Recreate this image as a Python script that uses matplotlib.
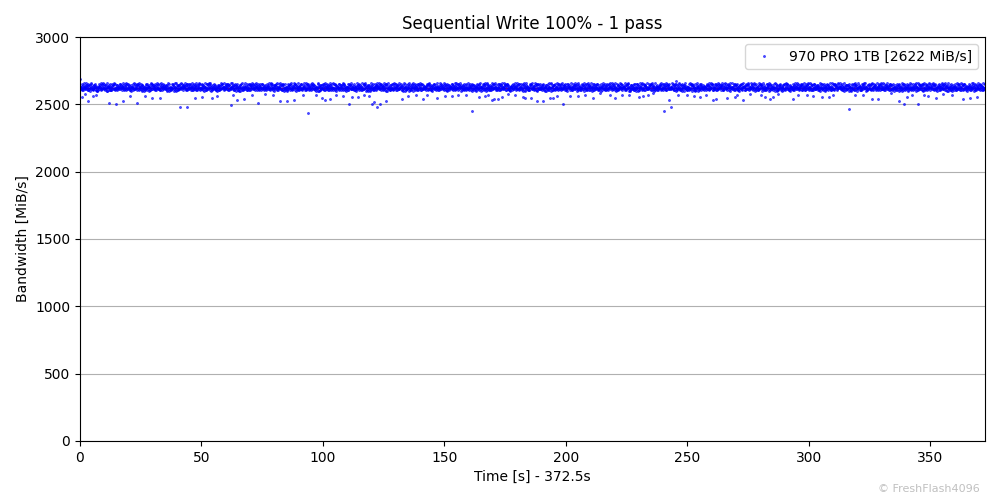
import numpy as np
from matplotlib import pyplot as plt

# run summary
title = 'Sequential Write 100% - 1 pass'
drive = '970 PRO 1TB'
duration = 372.5
avg_bw = 2622

# dense band of bandwidth samples, one digit per sample
# first log: bw = 2580 + 8 * digit
band_codes_a = (
    "6547365748563748596447586372567465389547584627563963748594653857649576564973845675384659474659378546"
    "6285746359547683964785647365494637586475574836925464592736583748596467586743697549563785467364859635"
    "5846275639465937854665473657483748596467564973845647586372567364859635856473654938576495765867436975"
    "4956378546746538954762857463595748369254563748596454768396476374859465753846594746375864756459273658"
    "5649738456736485963558462756395867436975465937854665473657488564736549475863725637485964673857649576"
    "5748369254753846594749563785465637485964645927365862857463597465389547547683964763748594654637586475"
    "4758637256385764957637485964678564736549654736574858674369755846275639465937854673648596355649738456"
    "5476839647463758647563748594656459273658746538954757483692544956378546628574635956374859647538465947"
    "5867436975654736574856497384565846275639475863725673648596354659378546374859646785647365493857649576"
    "5637485964628574635964592736584956378546547683964746375864757538465947637485946557483692547465389547"
    "8564736549584627563938576495766547365748736485963556497384565867436975475863725646593785463748596467"
    "6374859465574836925456374859647538465947628574635964592736587465389547495637854646375864755476839647"
    "7364859635374859646475863725646593785468564736549385764957665473657485846275639564973845658674369755"
    "7465389547495637854654768396474637586475637485946556374859646285746359753846594764592736585748369254"
    "3857649576564973845658674369754758637256584627563973648596353748596467654736574846593785468564736549"
)
# second log, sampled between the first: bw = 2584 + 8 * digit
band_codes_b = (
    "6483759 5694738 7259463 4758362 5386749 4695837 5926374 6358749 3857465 4867359 7364958 8473526 6539487 5748396 "
    "8473526 4758362 6539487 6483759 5748396 3857465 7259463 5386749 5926374 4695837 5694738 4867359 6358749 7364958 "
    "4867359 6358749 5926374 8473526 7364958 6539487 6483759 5694738 4758362 7259463 4695837 5386749 5748396 3857465 "
    "3857465 5386749 4695837 5748396 5694738 4758362 4867359 7364958 7259463 6483759 6539487 6358749 8473526 5926374 "
    "5748396 6483759 7364958 3857465 4867359 8473526 6358749 4758362 4695837 6539487 5926374 7259463 5386749 5694738 "
    "7364958 7259463 5748396 5386749 4758362 5926374 5694738 4695837 6483759 3857465 6358749 8473526 4867359 6539487 "
    "6539487 3857465 6483759 4695837 5926374 4867359 4758362 8473526 5748396 6358749 7259463 7364958 5694738 5386749 "
    "4695837 8473526 6358749 5694738 6483759 7259463 5386749 6539487 3857465 4758362 5748396 5926374 7364958 4867359 "
    "4758362 4867359 5386749 7259463 6358749 5748396 7364958 3857465 8473526 5694738 6483759 6539487 5926374 4695837 "
    "5694738 5926374 4758362 4867359 6539487 7364958 5748396 7259463 6358749 5386749 3857465 4695837 6483759 8473526 "
    "7259463 6539487 8473526 5926374 3857465 6358749 4695837 6483759 4867359 7364958 5386749 5694738 4758362 5748396 "
    "6358749 7364958 5694738 6539487 7259463 5386749 3857465 5926374 4758362 5748396 8473526 6483759 4695837 4867359 "
    "5386749 4695837 3857465 7364958 8473526 6483759 6539487 4867359 5694738 5926374 4758362 5748396 7259463 6358749 "
    "5926374 5748396 4867359 6358749 4695837 5694738 8473526 4758362 7364958 3857465 7259463 5386749 6539487 6483759 "
    "6483759 6358749 4758362 5386749 5748396 7259463 3857465 6539487 4695837 8473526 4867359 5926374 5694738 7364958 "
)
band_bw_a = 2580 + 8 * np.array([int(c) for c in band_codes_a])
band_bw_b = 2584 + 8 * np.array([int(c) for c in band_codes_b.replace(' ', '')])
band_t_a = (np.arange(len(band_bw_a)) + 1) * duration / len(band_bw_a)
band_t_b = (np.arange(len(band_bw_b)) + 0.5) * duration / len(band_bw_b)

# sparse samples off the band
out_t = [0.0, 0.7, 2.2, 3.4, 5.5, 6.6, 12.1, 14.8, 17.8, 20.6, 23.6, 26.8, 29.5, 32.9,
         41.2, 44.2, 47.3, 50.1, 54.2, 56.3, 62.0, 62.8, 64.8, 67.6, 70.7, 73.4, 76.1,
         79.6, 82.3, 85.3, 88.1, 91.9, 94.0, 97.1, 99.5, 100.8, 102.9, 105.3, 108.4,
         110.9, 111.8, 114.6, 116.9, 119.1, 120.0, 121.0, 122.4, 123.5, 126.0, 132.4,
         135.1, 138.3, 141.1, 143.0, 146.8, 150.2, 153.0, 155.7, 158.8, 161.2, 164.4,
         166.7, 168.1, 169.4, 170.4, 172.2, 173.5, 176.3, 179.0, 182.2, 183.1, 185.5,
         188.0, 190.7, 193.5, 194.6, 196.5, 198.7, 201.7, 205.1, 207.9, 211.0, 214.1,
         218.2, 220.2, 223.0, 225.8, 230.2, 231.8, 233.9, 235.9, 240.4, 242.6, 243.1,
         245.3, 246.3, 249.7, 252.8, 255.3, 257.7, 260.7, 261.8, 266.4, 269.6, 270.6,
         272.8, 275.6, 280.2, 282.0, 284.0, 285.1, 287.4, 293.3, 295.6, 299.1, 301.9,
         305.3, 308.1, 309.8, 316.7, 319.1, 322.4, 325.9, 328.6, 334.0, 337.2, 339.2,
         340.2, 342.3, 345.1, 347.2, 349.2, 352.3, 355.4, 358.8, 363.3, 366.3, 369.1]
out_bw = [2688, 2554, 2574, 2522, 2562, 2567, 2512, 2505, 2522, 2562, 2512, 2562, 2547, 2547,
          2480, 2480, 2547, 2554, 2547, 2562, 2493, 2567, 2530, 2537, 2572, 2512, 2579,
          2567, 2522, 2522, 2530, 2572, 2438, 2567, 2547, 2530, 2542, 2572, 2562,
          2500, 2554, 2554, 2572, 2562, 2505, 2517, 2480, 2500, 2522, 2537,
          2562, 2567, 2537, 2572, 2547, 2562, 2562, 2567, 2572, 2448, 2554,
          2562, 2572, 2530, 2542, 2537, 2554, 2579, 2567, 2554, 2547, 2547,
          2522, 2522, 2547, 2547, 2562, 2500, 2562, 2562, 2572, 2547, 2582,
          2567, 2547, 2572, 2572, 2554, 2562, 2567, 2582, 2448, 2530, 2480,
          2675, 2572, 2572, 2562, 2554, 2567, 2530, 2542, 2547, 2554, 2572,
          2530, 2579, 2572, 2554, 2537, 2554, 2579, 2537, 2567, 2567, 2562,
          2554, 2554, 2567, 2463, 2572, 2572, 2537, 2537, 2582, 2522, 2500,
          2554, 2572, 2500, 2567, 2562, 2547, 2579, 2567, 2537, 2547, 2554]


def main():
    t = np.concatenate([band_t_a, band_t_b, out_t])
    bw = np.concatenate([band_bw_a, band_bw_b, out_bw])
    order = np.argsort(t)

    fig = plt.figure(figsize=(10, 5), dpi=100)
    ax = fig.add_axes([0.08, 0.118, 0.905, 0.808])

    ax.axhline(avg_bw, color='red', linewidth=1.0, zorder=1.9)
    ax.plot(t[order], bw[order], '.', color='blue', markersize=3, alpha=0.7,
            markeredgewidth=0.5, label=f'{drive} [{avg_bw} MiB/s]', zorder=2)

    ax.set_xlim(0, duration)
    ax.set_ylim(0, 3000)
    ax.grid(axis='y', color='#b0b0b0')
    ax.set_axisbelow(True)
    ax.set_title(title, fontsize=12)
    ax.set_xlabel(f'Time [s] - {duration}s')
    ax.set_ylabel('Bandwidth [MiB/s]')
    ax.legend(loc='upper right')

    fig.text(0.98, 0.012, '\u00a9 FreshFlash4096', ha='right', va='bottom',
             fontsize=8, color='#c0c0c0')

    fig.savefig('out.png')


if __name__ == "__main__":
    main()
